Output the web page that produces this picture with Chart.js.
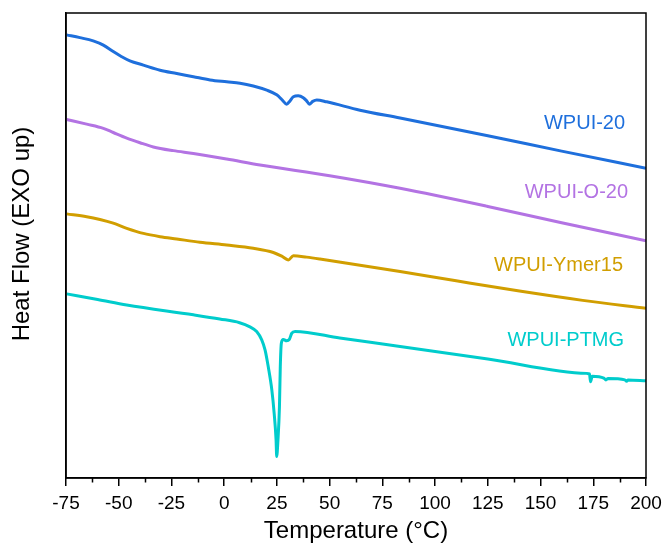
<!DOCTYPE html>
<html>
<head>
<meta charset="utf-8">
<script src="https://cdn.jsdelivr.net/npm/chart.js@4"></script>
<style>
html,body{margin:0;padding:0;background:#fff}
</style>
</head>
<body>
<canvas id="dsc" width="665" height="550"></canvas>
<script>
// DSC curves, heat flow in arbitrary units (exo up)
const names = ['WPUI-20', 'WPUI-O-20', 'WPUI-Ymer15', 'WPUI-PTMG'];
const colors = ['#1E6FDC', '#B373E3', '#D19E00', '#00CCCC'];

const tempW20 = [-74.7, -68.4, -62.1, -57.3, -52.6, -48.6, -44.7, -38.3, -30.4, -22.5, -14.6, -6.7, 1.2, 7.5, 13.8, 20.2, 24.9, 27.3, 29.6, 31.2, 32.8, 35.1, 37.5, 39.1, 40.4, 42.0, 43.9, 48.6, 64.4, 83.4, 125, 160, 200];
const flowW20 = [95.3, 94.7, 94.0, 93.1, 91.7, 90.6, 89.7, 88.8, 87.7, 87.0, 86.3, 85.6, 85.2, 84.9, 84.3, 83.4, 82.4, 81.4, 80.4, 81.1, 82.0, 82.2, 81.8, 81.1, 80.4, 81.0, 81.3, 80.9, 79.1, 77.4, 73.6, 70.3, 66.6];

const tempO20 = [-74.7, -65.2, -57.3, -52.6, -46.2, -39.9, -33.6, -24.1, -14.6, 1.2, 17, 50, 83.4, 125, 160, 200];
const flowO20 = [77.1, 76.1, 75.2, 74.3, 73.1, 72.1, 71.2, 70.4, 69.8, 68.6, 67.3, 65.0, 62.3, 58.4, 54.9, 51.0];

const tempYmer = [-74.7, -65.2, -58.9, -52.6, -46.2, -38.3, -30.4, -22.5, -11.5, 1.2, 13.8, 23.3, 27.3, 30.4, 32.8, 39.1, 45.4, 83.4, 110, 140, 170, 200];
const flowYmer = [56.8, 56.2, 55.6, 54.8, 53.7, 52.6, 51.9, 51.4, 50.7, 50.1, 49.4, 48.5, 47.7, 46.9, 47.8, 47.5, 47.1, 44.4, 42.4, 40.2, 38.2, 36.5];

const tempPTMG = [-74.7, -60, -46.2, -14.6, -2.1, 7.3, 12.2, 15.4, 17.8, 19.4, 20.9, 22.6, 23.7, 24.6, 24.9, 25.5, 26.2, 26.6, 27.1, 28.0, 29.6, 30.9, 32.0, 33.6, 54.8, 83.4, 125, 171.9, 173.2, 173.7, 174.5, 180, 181, 182, 190, 190.8, 191.5, 200];
const flowPTMG = [39.6, 38.4, 37.2, 35.1, 34.2, 33.4, 32.5, 31.5, 29.7, 27.5, 23.9, 18.9, 13.9, 8.2, 4.6, 8.2, 15.3, 23.9, 29.0, 29.8, 29.5, 29.8, 31.1, 31.5, 30.1, 28.3, 25.6, 22.5, 22.4, 20.7, 21.9, 21.5, 21.1, 21.4, 21.1, 20.8, 21.1, 20.9];

// where the curve names sit (temperature of right edge, heat flow)
const labelTemp = [190.1, 191.5, 189.1, 189.6];
const labelFlow = [76.3, 61.3, 45.8, 29.5];

const xTicks = [-75, -50, -25, 0, 25, 50, 75, 100, 125, 150, 175, 200];
const xMinor = [-62.5, -37.5, -12.5, 12.5, 37.5, 62.5, 87.5, 112.5, 137.5, 162.5, 187.5];

const temps = [tempW20, tempO20, tempYmer, tempPTMG];
const flows = [flowW20, flowO20, flowYmer, flowPTMG];

const FONT = "'Liberation Sans', Arial, sans-serif";

const datasets = names.map((n, i) => ({
    label: n,
    data: temps[i].map((t, j) => ({x: t, y: flows[i][j]})),
    borderColor: colors[i],
    borderWidth: 3,
    pointRadius: 0,
    fill: false,
    cubicInterpolationMode: 'monotone'
}))

const extras = {
    id: 'extras',
    afterDraw(chart) {
        const {ctx, chartArea: a, scales} = chart;
        const xs = scales.x, ys = scales.y;
        ctx.save();
        // frame
        ctx.strokeStyle = '#000';
        ctx.lineWidth = 1.5;
        ctx.strokeRect(a.left, a.top, a.right - a.left, a.bottom - a.top);
        // minor ticks
        ctx.beginPath();
        xMinor.forEach(v => {
            const px = Math.round(xs.getPixelForValue(v)) + 0.5;
            ctx.moveTo(px, a.bottom);
            ctx.lineTo(px, a.bottom + 4.5);
        })
        ctx.stroke();
        // curve names
        ctx.font = '20px ' + FONT;
        ctx.textAlign = 'right';
        ctx.textBaseline = 'middle';
        names.forEach((n, i) => {
            ctx.fillStyle = colors[i];
            ctx.fillText(n, xs.getPixelForValue(labelTemp[i]), ys.getPixelForValue(labelFlow[i]));
        })
        // y title
        ctx.translate(22, 234);
        ctx.rotate(-Math.PI / 2);
        ctx.textAlign = 'center';
        ctx.fillStyle = '#000';
        ctx.font = '24px ' + FONT;
        ctx.fillText('Heat Flow (EXO up)', 0, 0);
        ctx.restore();
    }
}

const chart = new Chart(document.getElementById('dsc'), {
    type: 'line',
    data: {datasets},
    options: {
        responsive: false,
        animation: false,
        layout: {padding: {top: 13, right: 19, left: 0, bottom: 0}},
        plugins: {legend: {display: false}, tooltip: {enabled: false}},
        scales: {
            x: {
                type: 'linear',
                min: -75,
                max: 200,
                afterBuildTicks: s => { s.ticks = xTicks.map(v => ({value: v})) },
                afterFit: s => { s.height = 72; s.paddingLeft = 0; s.paddingRight = 0 },
                grid: {drawOnChartArea: false, drawTicks: true, tickLength: 8, color: '#000', lineWidth: 1.5},
                border: {color: '#000', width: 1.5},
                ticks: {color: '#000', font: {family: FONT, size: 19}, padding: 6, maxRotation: 0},
                title: {display: true, text: 'Temperature (°C)', color: '#000', font: {family: FONT, size: 24}, padding: {top: 0, bottom: 4}}
            },
            y: {
                min: 0,
                max: 100,
                afterFit: s => { s.width = 66 },
                grid: {display: false},
                border: {color: '#000', width: 1.5},
                ticks: {display: false}
            }
        }
    },
    plugins: [extras]
})
</script>
</body>
</html>
